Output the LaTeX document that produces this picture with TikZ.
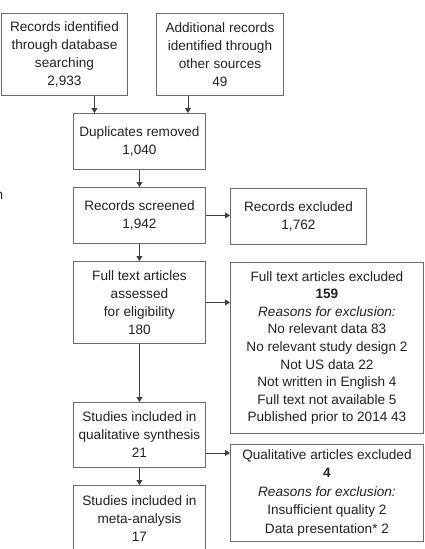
\documentclass[tikz,border=0pt]{standalone}
\usepackage{fontspec}
\setmainfont{Liberation Sans}
\usetikzlibrary{arrows.meta}
\definecolor{boxgray}{gray}{0.42}
\definecolor{textgray}{gray}{0.13}
\tikzset{
    line/.style={
        draw=boxgray,
        line width=0.9pt
    },
    arrow/.style={
        draw=black!75,
        line width=0.8pt,
        ->,
        > = {
            Triangle[length=5pt, width=6pt]
        }
    },
    box/.style={
        line,
        anchor=north west,
        align=center,
        inner sep=0pt,
        text=textgray,
        font=\fontsize{13.6}{18}\selectfont
    }
}

\begin{document}
\begin{tikzpicture}[x=1pt, y=-1pt]
    \useasboundingbox (0, 0) rectangle (424, 549);

    \node [box, minimum width=126pt, minimum height=82pt] (db) at (1, 13)
        {Records identified\\through database\\searching\\2,933};
    \node [box, minimum width=127pt, minimum height=82pt] (other) at (156, 13)
        {Additional records\\identified through\\other sources\\49};
    \node [box, minimum width=132pt, minimum height=56pt] (dup) at (73, 113)
        {Duplicates removed\\1,040};
    \node [box, minimum width=132pt, minimum height=56pt] (screen) at (73, 187)
        {Records screened\\1,942};
    \node [box, minimum width=136pt, minimum height=56pt] (recex) at (230, 188)
        {Records excluded\\1,762};
    \node [box, minimum width=132pt, minimum height=82pt] (full) at (73, 261)
        {Full text articles\\assessed\\for eligibility\\180};
    \node [box, minimum width=193pt, minimum height=171pt,
           font=\fontsize{13.6}{17.6}\selectfont] (fullex) at (230, 262)
        {Full text articles excluded\\\textbf{159}\\\textit{Reasons for exclusion:}\\No relevant data 83\\No relevant study design 2\\Not US data 22\\Not written in English 4\\Full text not available 5\\Published prior to 2014 43};
    \node [box, minimum width=132pt, minimum height=65pt] (qual) at (73, 402)
        {Studies included in\\qualitative synthesis\\21};
    \node [box, minimum width=193pt, minimum height=97pt,
           font=\fontsize{13.6}{18.5}\selectfont] (qualex) at (230, 444)
        {Qualitative articles excluded\\\textbf{4}\\\textit{Reasons for exclusion:}\\Insufficient quality 2\\Data presentation* 2};
    \node [box, minimum width=132pt, minimum height=66pt] (meta) at (73, 485)
        {Studies included in\\meta-analysis\\17};
    \node [anchor=base east, inner sep=0pt, text=textgray,
           font=\fontsize{13.6}{18}\selectfont] (cut) at (3.5, 199) {n};

    \draw [arrow] ([xshift=30pt]db.south) -- ([xshift=30pt]db.south |- dup.north);
    \draw [arrow] ([xshift=-32pt]other.south) -- ([xshift=-32pt]other.south |- dup.north);
    \draw [arrow] (dup.south) -- (screen.north);
    \draw [arrow] (screen.east) -- (screen.east -| recex.west);
    \draw [arrow] (screen.south) -- (full.north);
    \draw [arrow] (full.east) -- (full.east -| fullex.west);
    \draw [arrow] (full.south) -- (qual.north);
    \draw [arrow] ([yshift=-18pt]qual.east) -- ([yshift=-18pt]qual.east -| qualex.west);
    \draw [arrow] (qual.south) -- (meta.north);
\end{tikzpicture}
\end{document}
